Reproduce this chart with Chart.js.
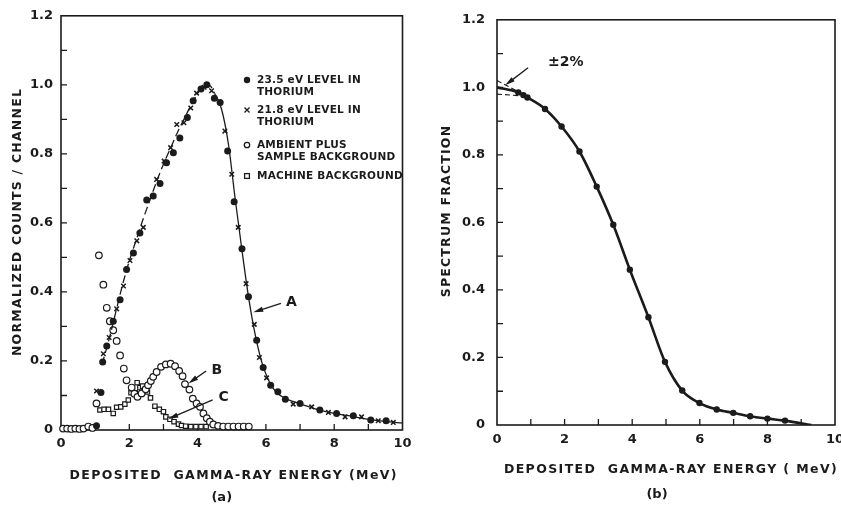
<!DOCTYPE html>
<html>
<head>
<meta charset="utf-8">
<script src="https://cdn.jsdelivr.net/npm/chart.js@4.4.1/dist/chart.umd.min.js"></script>
<style>
  html, body { margin: 0; padding: 0; background: #fff; overflow: hidden; width: 841px; height: 508px; }
  canvas { position: absolute; top: 0; }
  #panelA { left: 0; }
  #panelB { left: 420px; }
</style>
</head>
<body>
<canvas id="panelA" width="420" height="508"></canvas>
<canvas id="panelB" width="440" height="508"></canvas>
<script>
// (a) normalized counts per channel vs deposited energy
const dotEnergy = [1.04, 1.17, 1.22, 1.34, 1.53, 1.73, 1.92, 2.12, 2.31, 2.51, 2.70, 2.90, 3.09, 3.29, 3.48, 3.70, 3.87, 4.10, 4.27, 4.49, 4.66, 4.88, 5.07, 5.30, 5.49, 5.73, 5.92, 6.14, 6.35, 6.57, 7.00, 7.58, 8.07, 8.56, 9.07, 9.52];
const dotCounts = [0.012, 0.109, 0.197, 0.243, 0.315, 0.377, 0.465, 0.513, 0.571, 0.666, 0.678, 0.714, 0.774, 0.803, 0.846, 0.905, 0.954, 0.988, 1.0, 0.961, 0.949, 0.808, 0.661, 0.525, 0.386, 0.26, 0.181, 0.13, 0.111, 0.089, 0.077, 0.058, 0.048, 0.041, 0.029, 0.027];

const crossEnergy = [1.04, 1.24, 1.41, 1.63, 1.83, 2.02, 2.22, 2.41, 2.80, 3.02, 3.21, 3.39, 3.60, 3.80, 3.97, 4.19, 4.41, 4.80, 5.00, 5.19, 5.42, 5.66, 5.81, 6.02, 6.80, 7.34, 7.83, 8.32, 8.80, 9.29, 9.73];
const crossCounts = [0.113, 0.221, 0.268, 0.351, 0.417, 0.491, 0.548, 0.587, 0.726, 0.779, 0.818, 0.885, 0.890, 0.933, 0.976, 0.993, 0.983, 0.866, 0.741, 0.587, 0.424, 0.306, 0.21, 0.151, 0.075, 0.067, 0.051, 0.038, 0.038, 0.027, 0.022];

const ambientEnergy = [0.06, 0.18, 0.30, 0.42, 0.54, 0.66, 0.80, 0.92, 1.04, 1.11, 1.24, 1.34, 1.43, 1.53, 1.63, 1.73, 1.84, 1.92, 2.07, 2.15, 2.24, 2.36, 2.48, 2.55, 2.63, 2.70, 2.80, 2.93, 3.07, 3.21, 3.34, 3.46, 3.56, 3.63, 3.76, 3.86, 3.97, 4.07, 4.17, 4.27, 4.36, 4.46, 4.60, 4.75, 4.90, 5.05, 5.20, 5.35, 5.50];
const ambientCounts = [0.004, 0.004, 0.003, 0.004, 0.003, 0.004, 0.010, 0.006, 0.077, 0.506, 0.421, 0.354, 0.315, 0.289, 0.258, 0.216, 0.178, 0.144, 0.123, 0.105, 0.096, 0.106, 0.118, 0.13, 0.142, 0.154, 0.168, 0.183, 0.19, 0.192, 0.185, 0.171, 0.156, 0.133, 0.117, 0.091, 0.077, 0.067, 0.048, 0.034, 0.024, 0.016, 0.012, 0.01, 0.01, 0.01, 0.01, 0.01, 0.01];

const machineEnergy = [1.14, 1.26, 1.39, 1.53, 1.63, 1.75, 1.87, 1.97, 2.05, 2.08, 2.17, 2.23, 2.31, 2.39, 2.46, 2.53, 2.62, 2.75, 2.88, 3.00, 3.07, 3.19, 3.31, 3.44, 3.53, 3.65, 3.80, 3.95, 4.10, 4.25];
const machineCounts = [0.058, 0.06, 0.06, 0.048, 0.066, 0.067, 0.075, 0.087, 0.108, 0.12, 0.108, 0.137, 0.123, 0.127, 0.117, 0.11, 0.093, 0.069, 0.06, 0.053, 0.038, 0.031, 0.024, 0.017, 0.013, 0.011, 0.01, 0.01, 0.01, 0.01];

// curve A drawn through both level spectra
const curveEnergy = [1.2, 1.4, 1.6, 1.8, 2.0, 2.2, 2.4, 2.6, 2.8, 3.0, 3.2, 3.4, 3.6, 3.8, 4.0, 4.2, 4.33, 4.5, 4.7, 4.9, 5.1, 5.3, 5.5, 5.7, 5.9, 6.1, 6.3, 6.6, 7.0, 7.5, 8.0, 8.5, 9.0, 9.5, 10.0];
const curveCounts = [0.19, 0.26, 0.34, 0.42, 0.49, 0.55, 0.61, 0.665, 0.72, 0.77, 0.815, 0.86, 0.9, 0.94, 0.975, 0.998, 1.0, 0.975, 0.93, 0.83, 0.67, 0.52, 0.38, 0.27, 0.19, 0.14, 0.11, 0.09, 0.076, 0.06, 0.048, 0.04, 0.031, 0.025, 0.02];

// (b) spectrum fraction above the given energy
const fractionEnergy = [0.63, 0.78, 0.90, 1.42, 1.91, 2.44, 2.95, 3.44, 3.93, 4.48, 4.97, 5.48, 5.99, 6.50, 6.99, 7.49, 8.00, 8.52];
const fraction = [0.985, 0.977, 0.970, 0.936, 0.884, 0.81, 0.706, 0.593, 0.46, 0.319, 0.187, 0.102, 0.065, 0.046, 0.036, 0.026, 0.019, 0.013];
const fitEnergy = [0, ...fractionEnergy, 9.3];
const fitFraction = [1.0, ...fraction, 0];
const bandEnergy = [0, 0.68];
const bandUpper = [1.02, 0.985];
const bandLower = [0.98, 0.975];

const xTicks = [0, 2, 4, 6, 8, 10];
const yTicks = [0, 0.2, 0.4, 0.6, 0.8, 1.0, 1.2];

const INK = "#1b1b1b";
const FAMILY = '"DejaVu Sans", sans-serif';

function zip(xs, ys) {
  return xs.map((x, i) => ({ x, y: ys[i] }));
}

function makeScales(yWidth, xHeight, xPad, yPad) {
  return {
    x: {
      type: "linear",
      min: 0,
      max: 10,
      grid: { display: false, drawTicks: false },
      border: { display: false },
      afterFit: (s) => { s.height = xHeight; },
      ticks: {
        stepSize: 1,
        autoSkip: false,
        maxRotation: 0,
        padding: xPad,
        color: INK,
        font: { family: FAMILY, size: 13, weight: "bold" },
        callback: (v) => (xTicks.includes(v) ? String(v) : ""),
      },
    },
    y: {
      type: "linear",
      min: 0,
      max: 1.2,
      grid: { display: false, drawTicks: false },
      border: { display: false },
      afterFit: (s) => { s.width = yWidth; },
      ticks: {
        stepSize: 0.1,
        autoSkip: false,
        padding: yPad,
        color: INK,
        font: { family: FAMILY, size: 13, weight: "bold" },
        callback: (v) => {
          const k = Math.round(v * 10);
          if (!yTicks.some((t) => Math.round(t * 10) === k)) return "";
          return k === 0 ? "0" : (k / 10).toFixed(1);
        },
      },
    },
  };
}

function drawArrow(ctx, x0, y0, x1, y1) {
  const a = Math.atan2(y1 - y0, x1 - x0);
  const c = Math.cos(a), s = Math.sin(a);
  ctx.beginPath();
  ctx.moveTo(x0, y0);
  ctx.lineTo(x1 - 4 * c, y1 - 4 * s);
  ctx.stroke();
  ctx.beginPath();
  ctx.moveTo(x1, y1);
  ctx.lineTo(x1 - 10 * c + 2.6 * s, y1 - 10 * s - 2.6 * c);
  ctx.lineTo(x1 - 10 * c - 2.6 * s, y1 - 10 * s + 2.6 * c);
  ctx.closePath();
  ctx.fill();
}

function text(ctx, str, x, y, size, opts = {}) {
  ctx.save();
  ctx.font = `bold ${size}px ${FAMILY}`;
  ctx.fillStyle = INK;
  ctx.letterSpacing = opts.spacing || "0px";
  ctx.textAlign = opts.align || "left";
  ctx.textBaseline = "middle";
  if (opts.rotate) {
    ctx.translate(x, y);
    ctx.rotate(-Math.PI / 2);
    ctx.fillText(str, 0, 0);
  } else {
    ctx.fillText(str, x, y);
  }
  ctx.restore();
}

// frame, inward tick marks, titles and call-outs
function decorations(cfg) {
  return {
    id: "decorations",
    beforeDatasetsDraw(chart) {
      const { ctx, chartArea: a, scales } = chart;
      ctx.save();
      ctx.strokeStyle = INK;
      ctx.lineWidth = 1.6;
      ctx.strokeRect(a.left, a.top, a.right - a.left, a.bottom - a.top);
      ctx.lineWidth = 1.3;
      ctx.beginPath();
      scales.x.ticks.forEach((t) => {
        if (t.value <= 0 || t.value >= 10) return;
        const px = scales.x.getPixelForValue(t.value);
        ctx.moveTo(px, a.bottom);
        ctx.lineTo(px, a.bottom - 6);
      });
      scales.y.ticks.forEach((t) => {
        if (t.value <= 0.001 || t.value >= 1.199) return;
        const py = scales.y.getPixelForValue(t.value);
        ctx.moveTo(a.left, py);
        ctx.lineTo(a.left + 6, py);
      });
      ctx.stroke();
      ctx.restore();
    },
    afterDraw(chart) {
      const { ctx, chartArea: a, scales } = chart;
      const px = (v) => scales.x.getPixelForValue(v);
      const py = (v) => scales.y.getPixelForValue(v);
      ctx.save();
      ctx.fillStyle = INK;
      ctx.strokeStyle = INK;
      ctx.lineWidth = 1.3;

      text(ctx, cfg.xTitle, (a.left + a.right) / 2 + cfg.xTitleShift, cfg.xTitleY, 12.5, { align: "center", spacing: "1.4px" });
      text(ctx, cfg.panel, (a.left + a.right) / 2 + cfg.panelShift, cfg.panelY, 13, { align: "center" });
      text(ctx, cfg.yTitle, cfg.yTitleX, cfg.yTitleY, 12.5, { align: "center", spacing: "1.2px", rotate: true });

      cfg.callouts.forEach((c) => {
        drawArrow(ctx, px(c.from[0]), py(c.from[1]), px(c.to[0]), py(c.to[1]));
        text(ctx, c.label, px(c.at[0]), py(c.at[1]), c.size || 14, { align: "left" });
      });

      (cfg.legend || []).forEach((row) => {
        const mx = row.x, my = row.y;
        ctx.lineWidth = 1.3;
        if (row.mark === "dot") {
          ctx.beginPath(); ctx.arc(mx, my, 3.2, 0, Math.PI * 2); ctx.fill();
        } else if (row.mark === "cross") {
          ctx.beginPath();
          ctx.moveTo(mx - 2.5, my - 2.5); ctx.lineTo(mx + 2.5, my + 2.5);
          ctx.moveTo(mx + 2.5, my - 2.5); ctx.lineTo(mx - 2.5, my + 2.5);
          ctx.stroke();
        } else if (row.mark === "ring") {
          ctx.beginPath(); ctx.arc(mx, my, 2.7, 0, Math.PI * 2); ctx.stroke();
        } else if (row.mark === "box") {
          ctx.strokeRect(mx - 2.4, my - 2.4, 4.8, 4.8);
        }
        row.lines.forEach((ln, i) => text(ctx, ln, mx + 10, my + i * 12, 10.5, { spacing: "0.2px" }));
      });
      ctx.restore();
    },
  };
}

const pointOnly = { showLine: false, clip: false };

// left part of curve A is dashed up to the peak
const dashedBelow = 4.5;

new Chart(document.getElementById("panelA"), {
  type: "scatter",
  data: {
    datasets: [
      { ...pointOnly, label: "23.5 eV level", data: zip(dotEnergy, dotCounts), pointStyle: "circle", pointRadius: 3.5, backgroundColor: INK, borderWidth: 0 },
      { ...pointOnly, label: "21.8 eV level", data: zip(crossEnergy, crossCounts), pointStyle: "crossRot", pointRadius: 3.2, borderColor: INK, borderWidth: 1.5 },
      {
        label: "A", type: "line", showLine: true, data: zip(curveEnergy, curveCounts), borderColor: INK, borderWidth: 1.3,
        pointRadius: 0, cubicInterpolationMode: "monotone", fill: false,
        segment: { borderDash: (c) => (curveEnergy[c.p0DataIndex] < dashedBelow ? [8, 4] : []) },
      },
      { ...pointOnly, label: "Ambient plus sample background", data: zip(ambientEnergy, ambientCounts), pointStyle: "circle", pointRadius: 3.3, backgroundColor: "#fff", borderColor: INK, borderWidth: 1.2 },
      { ...pointOnly, label: "Machine background", data: zip(machineEnergy, machineCounts), pointStyle: "rect", pointRadius: 3.1, backgroundColor: "#fff", borderColor: INK, borderWidth: 1.2 },
    ],
  },
  options: {
    responsive: false,
    devicePixelRatio: 1,
    animation: false,
    events: [],
    layout: { padding: { left: 0, top: 14, right: 17.5, bottom: 0 } },
    scales: makeScales(61, 78, 6, 8),
    plugins: { legend: { display: false }, tooltip: { enabled: false } },
  },
  plugins: [decorations({
    xTitle: "DEPOSITED  GAMMA-RAY ENERGY (MeV)", xTitleY: 476, xTitleShift: 2,
    panel: "(a)", panelY: 498, panelShift: -10,
    yTitle: "NORMALIZED COUNTS / CHANNEL", yTitleX: 18, yTitleY: 222,
    callouts: [
      { label: "A", at: [6.59, 0.37], from: [6.44, 0.367], to: [5.63, 0.341] },
      { label: "B", at: [4.41, 0.173], from: [4.25, 0.171], to: [3.73, 0.135] },
      { label: "C", at: [4.61, 0.096], from: [4.44, 0.087], to: [3.14, 0.032] },
    ],
    legend: [
      { mark: "dot", x: 247, y: 80, lines: ["23.5 eV LEVEL IN", "THORIUM"] },
      { mark: "cross", x: 247, y: 110, lines: ["21.8 eV LEVEL IN", "THORIUM"] },
      { mark: "ring", x: 247, y: 145, lines: ["AMBIENT PLUS", "SAMPLE BACKGROUND"] },
      { mark: "box", x: 247, y: 176, lines: ["MACHINE BACKGROUND"] },
    ],
  })],
});

new Chart(document.getElementById("panelB"), {
  type: "scatter",
  data: {
    datasets: [
      { ...pointOnly, label: "fraction", data: zip(fractionEnergy, fraction), pointStyle: "circle", pointRadius: 3.2, backgroundColor: INK, borderWidth: 0 },
      { label: "fit", type: "line", showLine: true, data: zip(fitEnergy, fitFraction), borderColor: INK, borderWidth: 2.6, pointRadius: 0, cubicInterpolationMode: "monotone", fill: false },
      { label: "+2%", type: "line", showLine: true, data: zip(bandEnergy, bandUpper), borderColor: INK, borderWidth: 1.1, borderDash: [5, 3], pointRadius: 0, fill: false },
      { label: "-2%", type: "line", showLine: true, data: zip(bandEnergy, bandLower), borderColor: INK, borderWidth: 1.1, borderDash: [5, 3], pointRadius: 0, fill: false },
    ],
  },
  options: {
    responsive: false,
    devicePixelRatio: 1,
    animation: false,
    events: [],
    layout: { padding: { left: 0, top: 14, right: 25, bottom: 0 } },
    scales: makeScales(77, 83, 7, 12),
    plugins: { legend: { display: false }, tooltip: { enabled: false } },
  },
  plugins: [decorations({
    xTitle: "DEPOSITED  GAMMA-RAY ENERGY ( MeV)", xTitleY: 470, xTitleShift: 5,
    panel: "(b)", panelY: 495, panelShift: -9,
    yTitle: "SPECTRUM FRACTION", yTitleX: 27, yTitleY: 211,
    callouts: [
      { label: "±2%", at: [1.51, 1.073], from: [0.92, 1.058], to: [0.24, 1.006] },
    ],
  })],
});
</script>
</body>
</html>
